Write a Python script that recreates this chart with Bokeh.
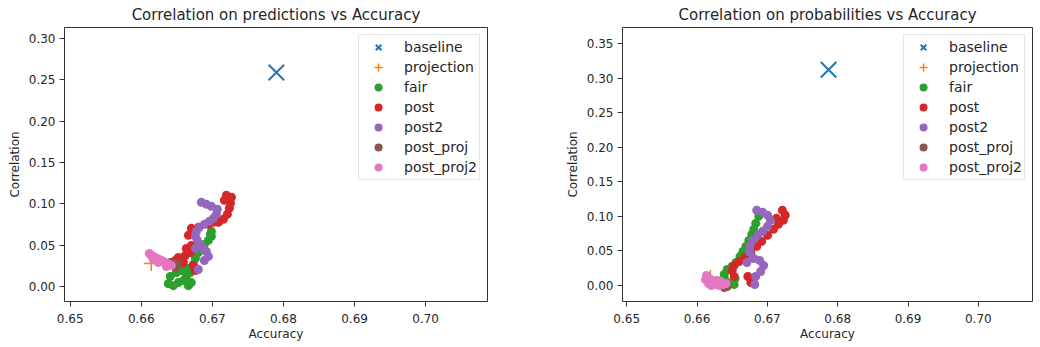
from bokeh.plotting import figure
from bokeh.layouts import row
from bokeh.models import Range1d, FixedTicker, PrintfTickFormatter
from bokeh.embed import file_html
from bokeh.resources import INLINE

# ---------------- data: left panel (predictions) ----------------
pred_baseline_x = [0.6790]
pred_baseline_y = [0.259]
pred_projection_x = [0.6614]
pred_projection_y = [0.028]

pred_fair_x = [0.66380, 0.66451, 0.66521, 0.66592, 0.66662, 0.66704, 0.66408, 0.66493, 0.66563, 0.66662,
               0.66690, 0.66761, 0.66803, 0.66845, 0.66887, 0.66944, 0.66986, 0.66986, 0.66972, 0.66732, 0.66634]
pred_fair_y = [0.0036, 0.0012, 0.0049, 0.0073, 0.0012, 0.0049, 0.0122, 0.0170, 0.0194, 0.0219,
               0.0170, 0.0340, 0.0413, 0.0462, 0.0510, 0.0559, 0.0608, 0.0668, 0.0632, 0.0267, 0.0122]

pred_post_x = [0.66479, 0.66521, 0.66592, 0.66634, 0.66690, 0.66704, 0.66761, 0.66704, 0.66662, 0.66803,
               0.66944, 0.67014, 0.67085, 0.67155, 0.67211, 0.67239, 0.67254, 0.67225, 0.67197, 0.67268,
               0.67169, 0.66732, 0.66620]
pred_post_y = [0.0316, 0.0352, 0.0292, 0.0462, 0.0413, 0.0498, 0.0194, 0.0705, 0.0620, 0.0717,
               0.0753, 0.0778, 0.0778, 0.0814, 0.0875, 0.0948, 0.1009, 0.1069, 0.1106, 0.1081,
               0.1045, 0.0255, 0.0377]

pred_post2_x = [0.66845, 0.66915, 0.66986, 0.67070, 0.67056, 0.67014, 0.66958, 0.66887, 0.66817, 0.66775,
                0.66761, 0.66789, 0.66831, 0.66873, 0.66915, 0.66944, 0.66887, 0.66803, 0.66761]
pred_post2_y = [0.1021, 0.0996, 0.0972, 0.0936, 0.0875, 0.0826, 0.0790, 0.0753, 0.0717, 0.0668,
                0.0608, 0.0559, 0.0510, 0.0462, 0.0425, 0.0365, 0.0316, 0.0207, 0.0462]

pred_post_proj_x = [0.66408, 0.66465, 0.66507, 0.66479]
pred_post_proj_y = [0.0292, 0.0279, 0.0267, 0.0231]

pred_post_proj2_x = [0.66113, 0.66141, 0.66169, 0.66197, 0.66225, 0.66254, 0.66282, 0.66310, 0.66338, 0.66366,
                     0.66394, 0.66423, 0.66239, 0.66169, 0.66352]
pred_post_proj2_y = [0.0401, 0.0377, 0.0365, 0.0352, 0.0340, 0.0328, 0.0316, 0.0304, 0.0292, 0.0279,
                     0.0267, 0.0255, 0.0292, 0.0328, 0.0243]

# ---------------- data: right panel (probabilities) ----------------
prob_baseline_x = [0.6787]
prob_baseline_y = [0.312]
prob_projection_x = [0.6619]
prob_projection_y = [0.012]

prob_fair_x = [0.66877, 0.66835, 0.66807, 0.66779, 0.66737, 0.66695, 0.66653, 0.66611, 0.66555, 0.66499,
               0.66429, 0.66387, 0.66401, 0.66471, 0.66527, 0.66541]
prob_fair_y = [0.1001, 0.0900, 0.0813, 0.0740, 0.0653, 0.0566, 0.0493, 0.0421, 0.0334, 0.0276,
               0.0232, 0.0160, 0.0073, 0.0029, 0.0015, 0.0102]

prob_post_x = [0.67213, 0.67255, 0.67227, 0.67157, 0.67087, 0.67003, 0.66919, 0.66849, 0.66765, 0.66681,
               0.66597, 0.66527, 0.66499, 0.66527, 0.66723, 0.66765, 0.67129]
prob_post_y = [0.1089, 0.1016, 0.0943, 0.0885, 0.0813, 0.0726, 0.0639, 0.0566, 0.0479, 0.0406,
               0.0348, 0.0290, 0.0218, 0.0131, 0.0131, 0.0044, 0.0972]

prob_post2_x = [0.66849, 0.66933, 0.67003, 0.67045, 0.67003, 0.66933, 0.66863, 0.66793, 0.66751, 0.66751,
                0.66807, 0.66891, 0.66947, 0.66905, 0.66835, 0.66821, 0.66709]
prob_post2_y = [0.1089, 0.1059, 0.1016, 0.0943, 0.0856, 0.0784, 0.0726, 0.0653, 0.0566, 0.0479,
                0.0392, 0.0363, 0.0290, 0.0203, 0.0131, 0.0015, 0.0334]

prob_post_proj_x = [0.66429, 0.66387]
prob_post_proj_y = [-0.0015, -0.0029]

prob_post_proj2_x = [0.66134, 0.66176, 0.66218, 0.66261, 0.66317, 0.66373, 0.66415, 0.66204, 0.66162, 0.66289,
                     0.66345, 0.66120]
prob_post_proj2_y = [0.0145, 0.0102, 0.0058, 0.0015, 0.0000, 0.0015, 0.0029, 0.0000, 0.0029, 0.0073,
                     0.0058, 0.0087]

x_ticks = [0.65, 0.66, 0.67, 0.68, 0.69, 0.70]
pred_y_ticks = [0.00, 0.05, 0.10, 0.15, 0.20, 0.25, 0.30]
prob_y_ticks = [0.00, 0.05, 0.10, 0.15, 0.20, 0.25, 0.30, 0.35]

labels = ["baseline", "projection", "fair", "post", "post2", "post_proj", "post_proj2"]
colors = ["#1f77b4", "#ff7f0e", "#2ca02c", "#d62728", "#9467bd", "#8c564b", "#e377c2"]

FONT = "DejaVu Sans"
TXT = "#262626"


def make_panel(title, series, xr, yr, yticks, width, mb_left, mb_right):
    p = figure(width=width, height=343, output_backend="svg", toolbar_location=None,
               x_range=Range1d(*xr), y_range=Range1d(*yr),
               min_border_left=mb_left, min_border_right=mb_right,
               min_border_top=26, min_border_bottom=10)
    p.title.text = title
    p.title.align = "center"
    p.title.text_font = FONT
    p.title.text_font_size = "15px"
    p.title.text_font_style = "normal"
    p.title.text_color = TXT
    p.title.standoff = 7
    p.title.offset = 0

    (bx, by), (px_, py_) = series[0], series[1]
    p.scatter(bx, by, marker="x", size=22, line_width=2, line_color=colors[0],
              legend_label=labels[0])
    p.scatter(px_, py_, marker="cross", size=15, line_width=1.5, line_color=colors[1],
              legend_label=labels[1])
    for i in range(2, 7):
        sx, sy = series[i]
        p.scatter(sx, sy, marker="circle", size=9, fill_color=colors[i], line_color=None,
                  legend_label=labels[i])

    p.xgrid.visible = False
    p.ygrid.visible = False
    p.outline_line_color = "#333333"
    p.outline_line_width = 1

    for ax in (p.xaxis, p.yaxis):
        ax.axis_line_color = None
        ax.major_tick_line_color = "#333333"
        ax.major_tick_out = 5
        ax.major_tick_in = 0
        ax.minor_tick_line_color = None
        ax.major_label_text_font = FONT
        ax.major_label_text_font_size = "12px"
        ax.major_label_text_color = TXT
        ax.axis_label_text_font = FONT
        ax.axis_label_text_font_size = "12px"
        ax.axis_label_text_font_style = "normal"
        ax.axis_label_text_color = TXT
    p.xaxis.major_label_standoff = 7
    p.xaxis.axis_label_standoff = 1
    p.yaxis.major_label_standoff = 4
    p.yaxis.axis_label_standoff = 4
    p.xaxis.ticker = FixedTicker(ticks=x_ticks)
    p.yaxis.ticker = FixedTicker(ticks=yticks)
    p.xaxis.formatter = PrintfTickFormatter(format="%.2f")
    p.yaxis.formatter = PrintfTickFormatter(format="%.2f")
    p.xaxis.axis_label = "Accuracy"
    p.yaxis.axis_label = "Correlation"

    lg = p.legend[0]
    lg.location = "top_right"
    lg.margin = 7
    lg.padding = 2
    lg.spacing = 0
    lg.glyph_width = 34
    lg.glyph_height = 20
    lg.label_height = 17
    lg.label_standoff = 9
    lg.label_text_font = FONT
    lg.label_text_font_size = "14px"
    lg.label_text_color = TXT
    lg.border_line_color = "#cccccc"
    lg.border_line_width = 1
    lg.background_fill_alpha = 0.8
    return p


left = make_panel(
    "Correlation on predictions vs Accuracy",
    [(pred_baseline_x, pred_baseline_y), (pred_projection_x, pred_projection_y),
     (pred_fair_x, pred_fair_y), (pred_post_x, pred_post_y), (pred_post2_x, pred_post2_y),
     (pred_post_proj_x, pred_post_proj_y), (pred_post_proj2_x, pred_post_proj2_y)],
    (0.6492, 0.7087), (-0.018, 0.3134), pred_y_ticks, 562, 64, 75)

right = make_panel(
    "Correlation on probabilities vs Accuracy",
    [(prob_baseline_x, prob_baseline_y), (prob_projection_x, prob_projection_y),
     (prob_fair_x, prob_fair_y), (prob_post_x, prob_post_y), (prob_post2_x, prob_post2_y),
     (prob_post_proj_x, prob_post_proj_y), (prob_post_proj2_x, prob_post_proj2_y)],
    (0.6494, 0.7077), (-0.023, 0.373), prob_y_ticks, 471, 58, 1)

layout = row(left, right)
open("out.html", "w").write(file_html(layout, INLINE))
